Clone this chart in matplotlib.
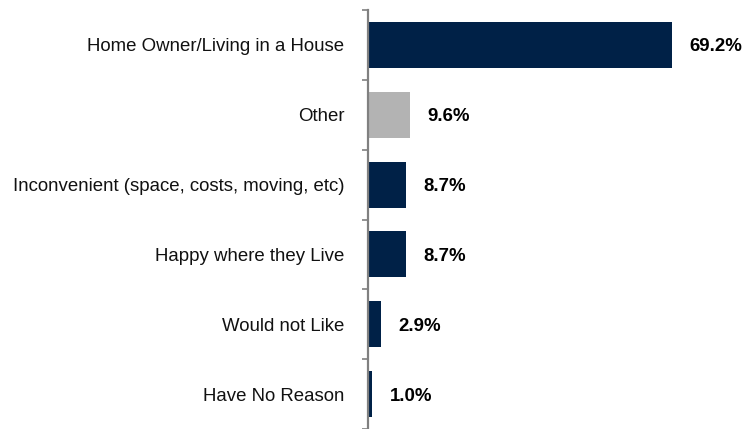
import numpy as np
import matplotlib.pyplot as plt

plt.rcParams['font.family'] = ['Liberation Sans', 'DejaVu Sans']

reasons = ['Home Owner/Living in a House', 'Other',
           'Inconvenient (space, costs, moving, etc)',
           'Happy where they Live', 'Would not Like', 'Have No Reason']
shares = [69.2, 9.6, 8.7, 8.7, 2.9, 1.0]
colors = ['#002147', '#b3b3b3', '#002147', '#002147', '#002147', '#002147']


def main():
    fig = plt.figure(figsize=(7.43, 4.29), dpi=100)
    ax = fig.add_axes([368 / 743, 0, 1 - 368 / 743, 1 - 10 / 429])

    y = np.arange(len(reasons))
    ax.barh(y, shares, height=0.66, color=colors, zorder=2)
    ax.set_ylim(len(reasons) - 0.5, -0.5)
    ax.set_xlim(0, (743 - 368) / 4.40)

    for yi, v in zip(y, shares):
        ax.annotate(f'{v:.1f}%', (v, yi), xytext=(12.5, 0),
                    textcoords='offset points', va='center_baseline',
                    ha='left', fontsize=13.4, fontweight='bold',
                    color='black')

    for side in ['top', 'right', 'bottom']:
        ax.spines[side].set_visible(False)
    ax.spines['left'].set_color('#808080')
    ax.spines['left'].set_linewidth(1.6)

    ax.set_xticks([])
    ax.set_yticks(y)
    ax.set_yticklabels(reasons, fontsize=13.4, color='#111111',
                       va='center_baseline')
    ax.tick_params(axis='y', which='major', length=0, pad=17)
    ax.set_yticks(np.arange(len(reasons) + 1) - 0.5, minor=True)
    ax.tick_params(axis='y', which='minor', length=4, width=1.2,
                   color='#808080')

    fig.savefig('out.png', dpi=100)


if __name__ == "__main__":
    main()
